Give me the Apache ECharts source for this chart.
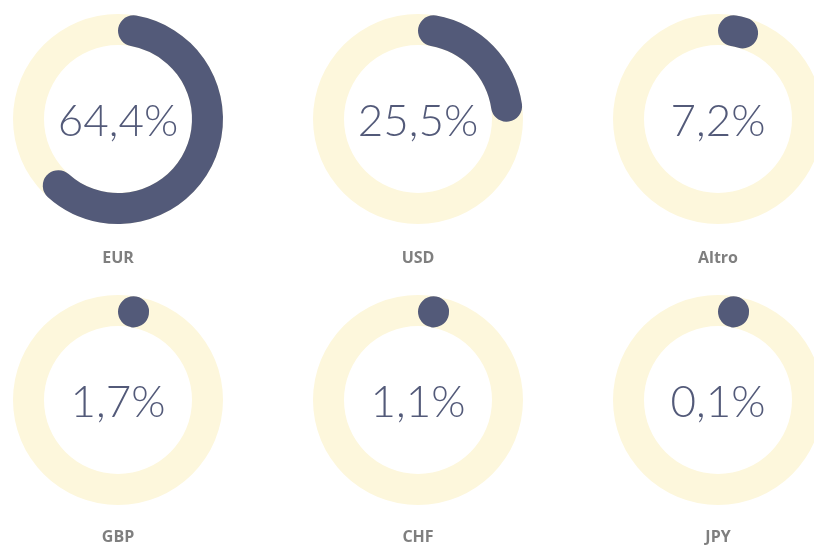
<!DOCTYPE html>
<html>
<head>
<meta charset="utf-8">
<script src="https://cdn.jsdelivr.net/npm/echarts@6/dist/echarts.min.js"></script>
<style>
  html, body { margin: 0; padding: 0; background: #fff; }
  #chart { width: 814px; height: 545px; }
</style>
</head>
<body>
<div id="chart"></div>
<script>
const currencies = ["EUR", "USD", "Altro", "GBP", "CHF", "JPY"];
const shares = [64.4, 25.5, 7.2, 1.7, 1.1, 0.1];
const pctLabels = ["64,4%", "25,5%", "7,2%", "1,7%", "1,1%", "0,1%"];

const colX = [118, 418, 718];
const rowY = [119, 400];
const labelY = [258, 537];
const DARK = "#535a79";
const TRACK = "#fdf7dc";

const series = [];
const titles = [];
currencies.forEach((name, i) => {
  const cx = colX[i % 3], cy = rowY[Math.floor(i / 3)];
  // background ring
  series.push({
    type: "pie", silent: true, center: [cx, cy], radius: [74, 105],
    label: { show: false }, itemStyle: { color: TRACK },
    data: [{ value: 1, name: name + "_track" }]
  });
  // share arc, rest transparent
  series.push({
    type: "pie", silent: true, center: [cx, cy], radius: [74, 105],
    startAngle: 90, clockwise: true, minAngle: 20,
    itemStyle: { borderRadius: 16 },
    label: { show: false },
    data: [
      { value: shares[i], name: name, itemStyle: { color: DARK } },
      { value: 100 - shares[i], name: "", itemStyle: { color: "rgba(0,0,0,0)" } }
    ]
  });
  titles.push({
    text: pctLabels[i], left: cx, top: cy + 3, padding: 0,
    textAlign: "center", textVerticalAlign: "middle",
    textStyle: { fontFamily: "Lato", fontWeight: 300, fontSize: 44, color: DARK }
  });
  titles.push({
    text: name, left: cx, top: labelY[Math.floor(i / 3)], padding: 0,
    textAlign: "center", textVerticalAlign: "middle",
    textStyle: { fontFamily: "Open Sans", fontWeight: "bold", fontSize: 16, color: "#7f7f7f" }
  });
});

echarts.init(document.getElementById("chart")).setOption({
  animation: false,
  title: titles,
  series
});
</script>
</body>
</html>
